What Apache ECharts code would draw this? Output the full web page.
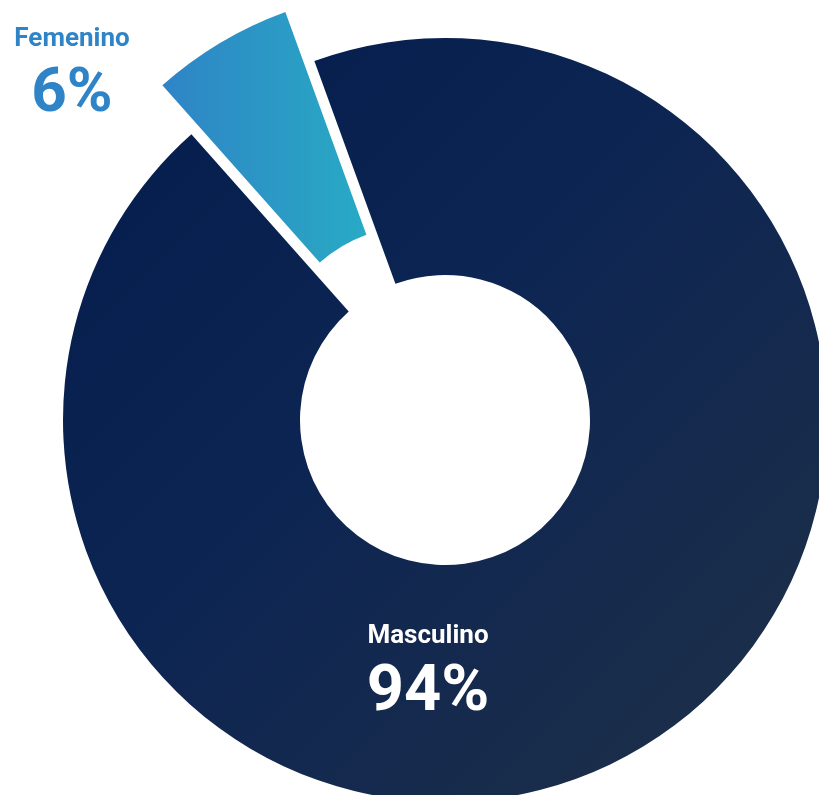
<!DOCTYPE html>
<html>
<head>
<meta charset="utf-8">
<script src="https://cdn.jsdelivr.net/npm/echarts@6/dist/echarts.min.js"></script>
<style>
    html, body { margin: 0; padding: 0; background: #ffffff; }
    #chart { width: 819px; height: 795px; }
</style>
</head>
<body>
<div id="chart"></div>
<script>
// datos del gráfico
var categories = ['Masculino', 'Femenino'];
var values = [94, 6];

var myChart = echarts.init(document.getElementById('chart'));

var sliceColors = [
    new echarts.graphic.LinearGradient(0, 0, 1, 1, [
        {offset: 0, color: '#041c4c'},
        {offset: 0.45, color: '#0d2552'},
        {offset: 1, color: '#1f3047'}
    ]),
    new echarts.graphic.LinearGradient(0, 0, 1, 0, [
        {offset: 0, color: '#2f84c6'},
        {offset: 1, color: '#28aac4'}
    ])
];
var textColors = ['#ffffff', '#2f84c8'];

// posiciones y tamaños de las etiquetas
var labelPos = [
    {x: 428, y: 672, name: 26, pct: 65, gap: 44},
    {x: 72, y: 75, name: 26, pct: 62, gap: 40}
];

// la porción destacada se dibuja en una segunda serie desplazada hacia afuera
function buildSeries(visibleIdx, center) {
    return {
        type: 'pie',
        center: center,
        radius: [145, 382],
        startAngle: 110,
        silent: true,
        avoidLabelOverlap: false,
        labelLine: { show: false },
        emphasis: { disabled: true },
        label: {
            show: true,
            position: 'inside',
            formatter: '{n|{b}}\n{p|{d}%}'
        },
        labelLayout: function (params) {
            if (params.dataIndex !== visibleIdx) return {};
            var p = labelPos[params.dataIndex];
            return { x: p.x, y: p.y, align: 'center', verticalAlign: 'middle' };
        },
        data: categories.map(function (name, idx) {
            var c = textColors[idx];
            var lp = labelPos[idx];
            var shown = idx === visibleIdx;
            return {
                name: name,
                value: values[idx],
                itemStyle: { color: shown ? sliceColors[idx] : 'rgba(0,0,0,0)' },
                label: {
                    show: shown,
                    rich: {
                        n: { color: c, fontSize: lp.name, fontWeight: 'bold', fontFamily: 'Roboto', lineHeight: lp.gap },
                        p: { color: c, fontSize: lp.pct, fontWeight: 'bold', fontFamily: 'Roboto', lineHeight: 72 }
                    }
                }
            };
        })
    };
}

myChart.setOption({
    animation: false,
    series: [
        buildSeries(0, [445, 420]),
        buildSeries(1, [416, 371])
    ]
});
</script>
</body>
</html>
